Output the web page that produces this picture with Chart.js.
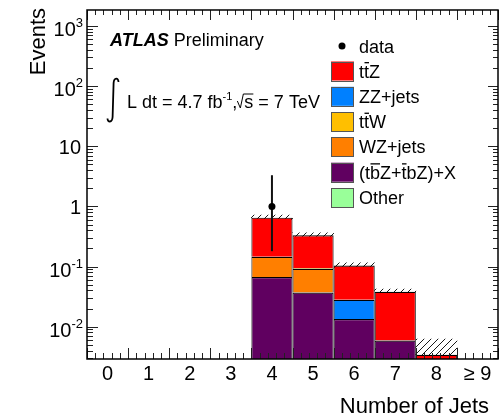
<!DOCTYPE html>
<html>
<head>
<meta charset="utf-8">
<script src="https://cdn.jsdelivr.net/npm/chart.js@4.4.0/dist/chart.umd.min.js"></script>
<style>
  html, body { margin: 0; padding: 0; background: #fff; }
  #wrap { width: 504px; height: 418px; }
</style>
</head>
<body>
<div id="wrap"><canvas id="jets" width="504" height="418"></canvas></div>
<script>
// Jet multiplicity: stacked predictions, systematic band and data
const jetBins = ['0', '1', '2', '3', '4', '5', '6', '7', '8', '\u2265 9'];

const ttZ    = [0, 0, 0, 0, 0.505, 0.235, 0.076, 0.032, 0.0034, 0];
const zzJets = [0, 0, 0, 0, 0, 0, 0.0146, 0, 0, 0];
const ttW    = [0, 0, 0, 0, 0, 0.003, 0, 0, 0, 0];
const wzJets = [0, 0, 0, 0, 0.078, 0.055, 0, 0, 0, 0];
const tbZ    = [0, 0, 0, 0, 0.067, 0.037, 0.0134, 0.0059, 0, 0];
const other  = [0, 0, 0, 0, 0, 0, 0, 0, 0, 0];

// uncertainty on the total prediction
const bandLow  = [null, null, null, null, 0.59, 0.30, 0.094, 0.034, 0.0005, null];
const bandHigh = [null, null, null, null, 0.72, 0.365, 0.115, 0.042, 0.0062, null];

// observed events with Poisson interval
const dataVals = [null, null, null, null, 1, null, null, null, null, null];
const dataLow  = [null, null, null, null, 0.18, null, null, null, null, null];
const dataHigh = [null, null, null, null, 3.3, null, null, null, null, null];

const yMin = 0.0029, yMax = 1845;
const yTickValues = [0.01, 0.1, 1, 10, 100, 1000];
const yTickBases  = ['10', '10', '1', '10', '10', '10'];
const yTickExps   = ['-2', '-1', '', '', '2', '3'];

// bottom of the stack first; {x} puts a bar over x in the legend
const stackSets = [
  { name: 'Other',          data: other,  color: '#99ff99' },
  { name: '(t{b}Z+{t}bZ)+X', data: tbZ,    color: '#600060' },
  { name: 'WZ+jets',        data: wzJets, color: '#ff7f00' },
  { name: 't{t}W',          data: ttW,    color: '#ffbf00' },
  { name: 'ZZ+jets',        data: zzJets, color: '#0080ff' },
  { name: 't{t}Z',          data: ttZ,    color: '#ff0000' }
];

const FONT = '"Liberation Sans", Arial, Helvetica, sans-serif';

const canvas = document.getElementById('jets');
const ctx = canvas.getContext('2d');

function hatchPattern() {
  const c = document.createElement('canvas');
  c.width = 7; c.height = 7;
  const g = c.getContext('2d');
  g.strokeStyle = '#000';
  g.lineWidth = 0.9;
  g.beginPath();
  g.moveTo(0, 7); g.lineTo(7, 0);
  g.moveTo(-1, 1); g.lineTo(1, -1);
  g.moveTo(6, 8); g.lineTo(8, 6);
  g.stroke();
  return ctx.createPattern(c, 'repeat');
}

// text with optional overbars, e.g. 't{t}Z'
function barredText(g, str, x, y, size) {
  let cx = x, barred = false;
  for (const ch of str) {
    if (ch === '{') { barred = true; continue; }
    if (ch === '}') { barred = false; continue; }
    const w = g.measureText(ch).width;
    g.fillText(ch, cx, y);
    if (barred) {
      g.fillRect(cx + 0.5, y - size * 0.86, w - 0.5, 1.3);
    }
    cx += w;
  }
  return cx;
}

const frame = {
  id: 'frame',
  afterDatasetsDraw(chart) {
    const { ctx: g, chartArea: a, scales: { x, y } } = chart;
    g.save();
    // data error bars
    g.strokeStyle = '#111';
    g.lineWidth = 2;
    dataVals.forEach((v, i) => {
      if (v == null) return;
      const px = x.getPixelForValue(i);
      g.beginPath();
      g.moveTo(px, y.getPixelForValue(dataLow[i]));
      g.lineTo(px, y.getPixelForValue(dataHigh[i]));
      g.stroke();
    });
    g.fillStyle = '#000';
    dataVals.forEach((v, i) => {
      if (v == null) return;
      g.beginPath();
      g.arc(x.getPixelForValue(i), y.getPixelForValue(v), 3.5, 0, 2 * Math.PI);
      g.fill();
    });

    // ROOT style inward ticks on all four sides
    g.strokeStyle = '#222';
    g.lineWidth = 1;
    const w = x.getPixelForValue(1) - x.getPixelForValue(0);
    const x0 = x.getPixelForValue(0) - w / 2;
    g.beginPath();
    for (let k = 0; k <= 50; k++) {
      const px = Math.round(x0 + k * w / 5) + 0.5;
      const major = k % 5 === 0;
      g.moveTo(px, a.bottom); g.lineTo(px, a.bottom - (major ? 11 : 6));
      g.moveTo(px, a.top); g.lineTo(px, a.top + (major ? 10 : 5));
    }
    for (let d = -3; d <= 3; d++) {
      for (let m = 1; m <= 9; m++) {
        const v = m * Math.pow(10, d);
        if (v < yMin || v > yMax) continue;
        const py = Math.round(y.getPixelForValue(v)) + 0.5;
        g.moveTo(a.left, py); g.lineTo(a.left + (m === 1 ? 11 : 6), py);
        g.moveTo(a.right, py); g.lineTo(a.right - (m === 1 ? 10 : 5), py);
      }
    }
    g.stroke();
    g.strokeStyle = '#000';
    g.lineWidth = 1.5;
    g.strokeRect(a.left, a.top, a.right - a.left, a.bottom - a.top);
    g.restore();
  },
  afterDraw(chart) {
    const { ctx: g, scales: { x, y } } = chart;
    g.save();
    g.fillStyle = '#000';
    g.textBaseline = 'alphabetic';

    // y tick labels
    yTickValues.forEach((v, i) => {
      const py = y.getPixelForValue(v);
      g.font = '20px ' + FONT;
      const wb = g.measureText(yTickBases[i]).width;
      if (yTickExps[i]) {
        g.font = '13px ' + FONT;
        const we = g.measureText(yTickExps[i]).width;
        const sx = 83 - we - wb;
        g.font = '20px ' + FONT;
        g.fillText(yTickBases[i], sx, py + 10);
        g.font = '13px ' + FONT;
        g.fillText(yTickExps[i], sx + wb, py + 1);
      } else {
        g.fillText(yTickBases[i], 81 - wb, py + 8);
      }
    });

    // x tick labels
    g.font = '20px ' + FONT;
    g.textAlign = 'center';
    jetBins.forEach((lab, i) => {
      g.fillText(lab, x.getPixelForValue(i), 380);
    });

    // axis titles
    g.font = '22px ' + FONT;
    g.textAlign = 'right';
    g.fillText('Number of Jets', 489, 413);
    g.save();
    g.translate(45, 8);
    g.rotate(-Math.PI / 2);
    g.fillText('Events', 0, 0);
    g.restore();

    // experiment label
    g.textAlign = 'left';
    g.font = 'italic bold 18px ' + FONT;
    g.fillText('ATLAS', 110, 46);
    const wa = g.measureText('ATLAS ').width;
    g.font = '18px ' + FONT;
    g.fillText('Preliminary', 110 + wa, 46);

    // luminosity and energy
    g.strokeStyle = '#000';
    g.lineWidth = 1.8;
    g.beginPath();
    g.moveTo(118.5, 82);
    g.bezierCurveTo(118.5, 77.5, 114, 77, 113.6, 83);
    g.lineTo(112.6, 117);
    g.bezierCurveTo(112.2, 123, 107.5, 122.5, 107.5, 118.5);
    g.stroke();

    const by = 108;
    g.font = '18px ' + FONT;
    let cx = 127;
    g.fillText('L dt = 4.7 fb', cx, by);
    cx += g.measureText('L dt = 4.7 fb').width;
    g.font = '11px ' + FONT;
    g.fillText('-1', cx, by - 8);
    cx += g.measureText('-1').width;
    g.font = '18px ' + FONT;
    g.fillText(',', cx, by);
    cx += g.measureText(',').width;
    const ws = g.measureText('s').width;
    g.lineWidth = 1;
    g.beginPath();
    g.moveTo(cx, by - 7);
    g.lineTo(cx + 3, by);
    g.lineTo(cx + 6, by - 14);
    g.lineTo(cx + 7 + ws, by - 14);
    g.stroke();
    g.fillText('s', cx + 7, by);
    cx += 7 + ws;
    g.fillText(' = 7 TeV', cx, by);

    // legend
    g.font = '18px ' + FONT;
    g.beginPath();
    g.arc(342, 46, 3.5, 0, 2 * Math.PI);
    g.fill();
    g.fillText('data', 359, 52.5);
    const entries = stackSets.slice().reverse();
    entries.forEach((e, i) => {
      const cy = 71 + i * 25.3;
      g.fillStyle = e.color;
      g.fillRect(331, cy - 9.5, 23, 19);
      g.strokeStyle = '#555';
      g.lineWidth = 1;
      g.strokeRect(331.5, Math.round(cy - 9.5) + 0.5, 22, 19);
      g.fillStyle = '#000';
      barredText(g, e.name, 359, cy + 6.5, 18);
    });
    g.restore();
  }
};

const datasets = [];
stackSets.forEach(s => {
  datasets.push({
    type: 'bar',
    label: s.name,
    data: s.data,
    backgroundColor: s.color,
    borderColor: '#000',
    borderWidth: { top: 1.2, left: 1, right: 1, bottom: 0 },
    borderSkipped: 'bottom',
    stack: 'mc',
    order: 2,
    barPercentage: 1,
    categoryPercentage: 1,
    inflateAmount: 0
  });
});
datasets.push({
  type: 'bar',
  label: 'uncertainty',
  data: bandLow.map((l, i) => (l == null ? null : [l, bandHigh[i]])),
  backgroundColor: hatchPattern(),
  borderWidth: 0,
  stack: 'band',
  grouped: false,
  order: 5,
  barPercentage: 1,
  categoryPercentage: 1
});
datasets.push({
  type: 'line',
  label: 'data',
  data: dataVals,
  showLine: false,
  pointRadius: 0,
  stack: 'data',
  order: 0
});

new Chart(ctx, {
  type: 'bar',
  data: { labels: jetBins, datasets: datasets },
  options: {
    responsive: false,
    animation: false,
    events: [],
    layout: { padding: { left: 87, top: 10, right: 6, bottom: 59 } },
    plugins: { legend: { display: false }, tooltip: { enabled: false } },
    scales: {
      x: { type: 'category', stacked: true, offset: true, display: false },
      y: { type: 'logarithmic', stacked: true, display: false, min: yMin, max: yMax }
    }
  },
  plugins: [frame]
});
</script>
</body>
</html>
